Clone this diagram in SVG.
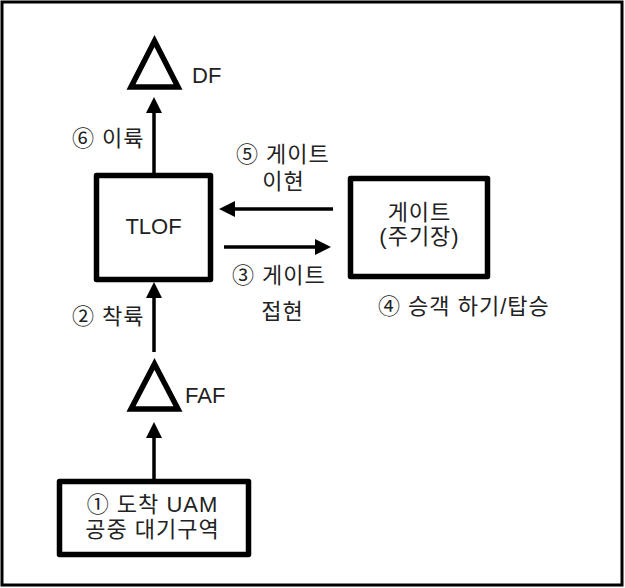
<svg xmlns="http://www.w3.org/2000/svg" width="625" height="588" viewBox="0 0 625 588">
<style>
.box{fill:#fff;stroke:#000;stroke-width:5.5;stroke-linejoin:round}
.tri{fill:#fff;stroke:#000;stroke-width:5.5;stroke-linejoin:miter}
.ln{stroke:#000;stroke-width:3.5;fill:none}
text{font-family:"Liberation Sans","Noto Sans CJK KR",sans-serif;font-size:22px;fill:#222}
.k{letter-spacing:1px}
.c{text-anchor:middle}
</style>
<defs>
<marker id="ah" viewBox="0 0 16 16" refX="8" refY="8" markerWidth="16" markerHeight="16" markerUnits="userSpaceOnUse" orient="auto">
<path d="M0,0 L16,8 L0,16 z" fill="#000"/>
</marker>
</defs>
<rect x="2" y="2" width="620" height="583" fill="#fff" stroke="#000" stroke-width="3"/>
<g id="connectors">
<line class="ln" x1="154" y1="173" x2="154" y2="105" marker-end="url(#ah)"/>
<line class="ln" x1="333" y1="209" x2="227" y2="209" marker-end="url(#ah)"/>
<line class="ln" x1="224" y1="247" x2="323" y2="247" marker-end="url(#ah)"/>
<line class="ln" x1="154" y1="352" x2="154" y2="290" marker-end="url(#ah)"/>
<line class="ln" x1="154" y1="479" x2="154" y2="430" marker-end="url(#ah)"/>
</g>
<g id="df">
<path class="tri" d="M154.5,41 L178,87 L131,87 Z"/>
<text x="192" y="83">DF</text>
</g>
<g id="tlof">
<rect class="box" x="96.5" y="175.5" width="114" height="104"/>
<text class="c" x="153.5" y="234">TLOF</text>
</g>
<g id="gate">
<rect class="box" x="350.5" y="178.5" width="137" height="98"/>
<text class="c k" x="419.5" y="220">게이트</text>
<text class="c k" x="419.5" y="244">(주기장)</text>
</g>
<g id="faf">
<path class="tri" d="M154.5,364 L178,409 L131,409 Z"/>
<text x="185" y="403">FAF</text>
</g>
<g id="holding">
<rect class="box" x="59.5" y="481.5" width="189" height="73"/>
<text class="c k" x="152.5" y="512">① 도착 UAM</text>
<text class="c k" x="152.5" y="537">공중 대기구역</text>
</g>
<g id="labels">
<text class="k" x="72" y="146">⑥ 이륙</text>
<text class="k" x="236" y="162">⑤ 게이트</text>
<text class="c k" x="283.5" y="189">이현</text>
<text class="k" x="232" y="283">③ 게이트</text>
<text class="c k" x="282.5" y="319">접현</text>
<text class="k" x="378" y="314">④ 승객 하기/탑승</text>
<text class="k" x="72" y="324">② 착륙</text>
</g>
</svg>
